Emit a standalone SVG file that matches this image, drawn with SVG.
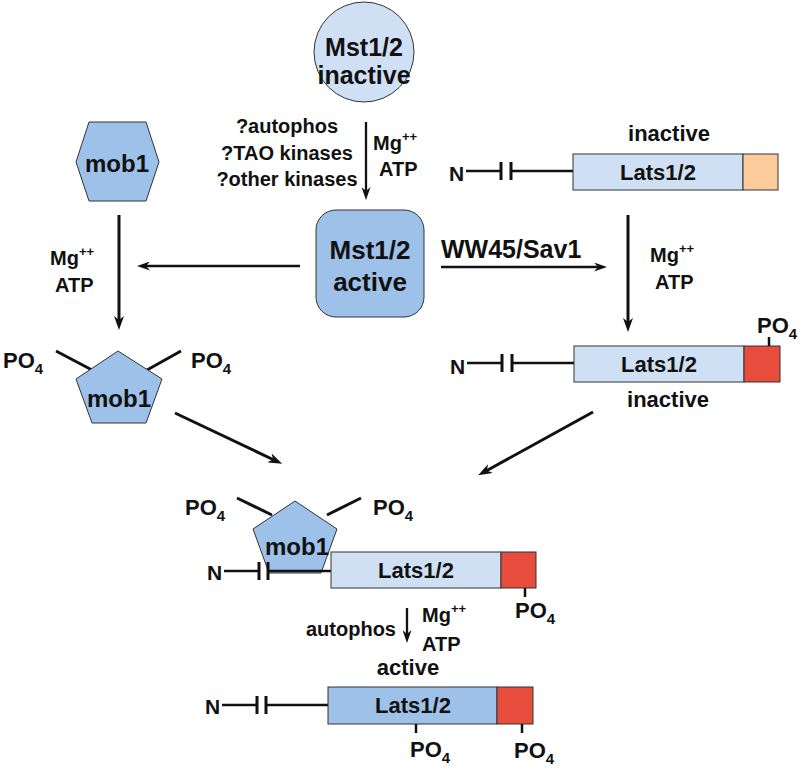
<svg xmlns="http://www.w3.org/2000/svg" width="800" height="772" viewBox="0 0 800 772">
<style>
text{font-family:"Liberation Sans",Arial,sans-serif;font-weight:bold;fill:#111}
.lt{fill:#d0e0f4;stroke:#333;stroke-width:1}
.md{fill:#9dc1e8;stroke:#333;stroke-width:1}
.red{fill:#e74c3c;stroke:#333;stroke-width:1}
.org{fill:#fbcb9b;stroke:#333;stroke-width:1}
.ln{stroke:#111;stroke-width:2.5;fill:none}
.bar{stroke:#111;stroke-width:3;fill:none}
.tk{stroke:#111;stroke-width:2.5}
.arr{stroke:#111;stroke-width:3;fill:none;marker-end:url(#ah)}
.arr2{stroke:#111;stroke-width:2.3;fill:none;marker-end:url(#ahs)}
.c{text-anchor:middle}
.e{text-anchor:end}
</style>
<defs>
<marker id="ah" markerUnits="userSpaceOnUse" viewBox="0 0 14 10" refX="5" refY="5" markerWidth="14" markerHeight="10" orient="auto">
<path d="M0,0 L14,5 L0,10 L4,5 z" fill="#111"/>
</marker>
<marker id="ahs" markerUnits="userSpaceOnUse" viewBox="0 0 13 9" refX="5" refY="4.5" markerWidth="13" markerHeight="9" orient="auto">
<path d="M0,0 L13,4.5 L0,9 L4,4.5 z" fill="#111"/>
</marker>
</defs>

<g id="mst-inactive">
<circle cx="364" cy="52" r="50" class="lt"/>
<text x="364" y="56" class="c" font-size="25">Mst1/2</text>
<text x="364" y="84" class="c" font-size="25">inactive</text>
</g>

<g id="mst-active">
<rect x="316" y="210" width="108" height="107" rx="20" class="md"/>
<text x="370" y="259" class="c" font-size="26">Mst1/2</text>
<text x="370" y="291" class="c" font-size="26">active</text>
</g>

<g id="mob1-hex">
<polygon points="89,122 146,122 159,162 146,201 89,201 76,162" class="md"/>
<text x="117" y="172" class="c" font-size="24">mob1</text>
</g>

<g id="mob1-p">
<line x1="56" y1="351" x2="92" y2="370" class="bar"/>
<line x1="181" y1="351" x2="147" y2="370" class="bar"/>
<polygon points="118,351 162,379 146,423 92,423 76,379" class="md"/>
<text x="119" y="407" class="c" font-size="24">mob1</text>
<text x="3" y="368" font-size="22">PO<tspan font-size="15" dy="6">4</tspan></text>
<text x="191" y="368" font-size="22">PO<tspan font-size="15" dy="6">4</tspan></text>
</g>

<g id="lats-inactive">
<text x="669" y="141" class="c" font-size="22">inactive</text>
<text x="449" y="181" font-size="21">N</text>
<line x1="466" y1="171" x2="501" y2="171" class="ln"/>
<line x1="501" y1="162" x2="501" y2="180" class="bar"/>
<line x1="511" y1="162" x2="511" y2="180" class="bar"/>
<line x1="511" y1="171" x2="573" y2="171" class="ln"/>
<rect x="573" y="154" width="170" height="36" class="lt"/>
<rect x="743" y="154" width="35" height="36" class="org"/>
<text x="658" y="180" class="c" font-size="22">Lats1/2</text>
</g>

<g id="lats-p">
<text x="450" y="374" font-size="21">N</text>
<line x1="467" y1="363" x2="502" y2="363" class="ln"/>
<line x1="502" y1="354" x2="502" y2="372" class="bar"/>
<line x1="512" y1="354" x2="512" y2="372" class="bar"/>
<line x1="512" y1="363" x2="574" y2="363" class="ln"/>
<rect x="574" y="346" width="170" height="36" class="lt"/>
<rect x="744" y="346" width="36" height="36" class="red"/>
<text x="659" y="372" class="c" font-size="22">Lats1/2</text>
<line x1="769" y1="337" x2="769" y2="346" class="tk"/>
<text x="757" y="333" font-size="22">PO<tspan font-size="15" dy="6">4</tspan></text>
<text x="668" y="407" class="c" font-size="22">inactive</text>
</g>

<g id="complex">
<line x1="237" y1="498" x2="272" y2="515" class="bar"/>
<line x1="361" y1="498" x2="327" y2="515" class="bar"/>
<polygon points="295,501 337,529 321,573 269,573 253,529" class="md"/>
<text x="185" y="515" font-size="22">PO<tspan font-size="15" dy="6">4</tspan></text>
<text x="373" y="515" font-size="22">PO<tspan font-size="15" dy="6">4</tspan></text>
<text x="207" y="580" font-size="21">N</text>
<line x1="224" y1="571" x2="259" y2="571" class="ln"/>
<line x1="259" y1="562" x2="259" y2="580" class="bar"/>
<line x1="268" y1="562" x2="268" y2="580" class="bar"/>
<line x1="268" y1="571" x2="331" y2="571" class="ln"/>
<rect x="331" y="552" width="170" height="36" class="lt"/>
<rect x="501" y="552" width="35" height="36" class="red"/>
<text x="297" y="555" class="c" font-size="24">mob1</text>
<text x="416" y="578" class="c" font-size="22">Lats1/2</text>
<line x1="525" y1="588" x2="525" y2="597" class="tk"/>
<text x="515" y="618" font-size="22">PO<tspan font-size="15" dy="6">4</tspan></text>
</g>

<g id="lats-active">
<text x="408" y="675" class="c" font-size="22">active</text>
<text x="205" y="714" font-size="21">N</text>
<line x1="222" y1="705" x2="257" y2="705" class="ln"/>
<line x1="257" y1="696" x2="257" y2="714" class="bar"/>
<line x1="266" y1="696" x2="266" y2="714" class="bar"/>
<line x1="266" y1="705" x2="328" y2="705" class="ln"/>
<rect x="328" y="687" width="169" height="37" class="md"/>
<rect x="497" y="687" width="36" height="37" class="red"/>
<text x="413" y="713" class="c" font-size="22">Lats1/2</text>
<line x1="416" y1="724" x2="416" y2="733" class="tk"/>
<line x1="522" y1="724" x2="522" y2="733" class="tk"/>
<text x="410" y="757" font-size="22">PO<tspan font-size="15" dy="6">4</tspan></text>
<text x="514" y="758" font-size="22">PO<tspan font-size="15" dy="6">4</tspan></text>
</g>

<g id="connectors">
<line x1="366" y1="122" x2="366" y2="192" class="arr2"/>
<line x1="300" y1="266" x2="145" y2="266" class="arr2"/>
<line x1="441" y1="267" x2="599" y2="267" class="arr2"/>
<line x1="119" y1="215" x2="119" y2="321" class="arr"/>
<line x1="628" y1="215" x2="628" y2="323" class="arr"/>
<line x1="175" y1="413" x2="274" y2="460" class="arr"/>
<line x1="593" y1="412" x2="486" y2="471" class="arr"/>
<line x1="407" y1="608" x2="407" y2="635" class="arr2" stroke-width="2"/>
</g>

<g id="labels">
<text x="287" y="133" class="c" font-size="20">?autophos</text>
<text x="287" y="160" class="c" font-size="20">?TAO kinases</text>
<text x="287" y="186" class="c" font-size="20">?other kinases</text>
<text x="373" y="150" font-size="20">Mg<tspan font-size="13" dy="-9">++</tspan></text>
<text x="379" y="176" font-size="20">ATP</text>
<text x="441" y="258" font-size="25">WW45/Sav1</text>
<text x="50" y="265" font-size="20">Mg<tspan font-size="13" dy="-9">++</tspan></text>
<text x="55" y="292" font-size="20">ATP</text>
<text x="650" y="262" font-size="20">Mg<tspan font-size="13" dy="-9">++</tspan></text>
<text x="655" y="289" font-size="20">ATP</text>
<text x="396" y="636" class="e" font-size="20">autophos</text>
<text x="422" y="622" font-size="20">Mg<tspan font-size="13" dy="-9">++</tspan></text>
<text x="422" y="651" font-size="20">ATP</text>
</g>
</svg>
